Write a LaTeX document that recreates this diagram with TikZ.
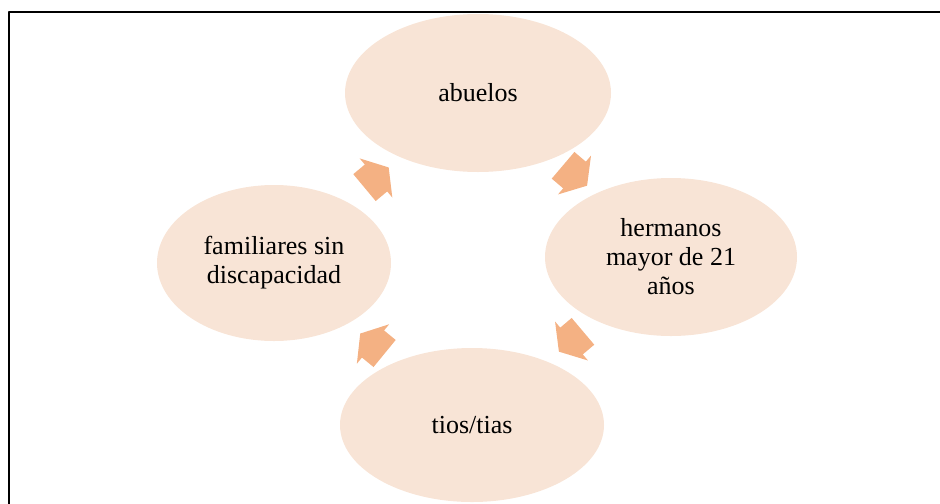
\documentclass[tikz,border=0pt]{standalone}
\usepackage{fontspec}
\setmainfont{Liberation Serif}
\usetikzlibrary{shapes.geometric,calc}
\definecolor{oval}{HTML}{F8E4D6}
\definecolor{flechacol}{HTML}{F4B183}
\tikzset{
	oval/.style={ellipse, fill=oval, inner sep=0pt, align=center, font=\fontsize{14.8}{16.5}\selectfont},
	flecha/.pic={\fill[flechacol] (-0.30,-0.35)--(0,-0.35)--(0,-0.51)--(0.33,0)--(0,0.51)--(0,0.35)--(-0.30,0.35)--cycle;}
}
\begin{document}
\begin{tikzpicture}[line join=round, line cap=round]
	\clip (0,0) rectangle (18.8,10.06);
	\draw[line width=1.1pt] (0.18,-1) rectangle (19.5,9.82);
	\node[oval, minimum width=5.32cm, minimum height=3.16cm] (abuelos) at (9.56,8.20) {abuelos};
	\node[oval, minimum width=5.04cm, minimum height=3.16cm] (hermanos) at (13.42,4.92) {hermanos\\mayor de 21\\años};
	\node[oval, minimum width=5.28cm, minimum height=3.08cm] (tios) at (9.44,1.56) {tios/tias};
	\node[oval, minimum width=4.68cm, minimum height=3.12cm] (familiares) at (5.48,4.80) {familiares sin\\discapacidad};
	\foreach \a/\b in {abuelos/hermanos, hermanos/tios, tios/familiares, familiares/abuelos}
	\path let \p1=($(\b.center)-(\a.center)$), \n1={atan2(\y1,\x1)} in ($(\a.center)!0.5!(\b.center)$) pic[rotate=\n1]{flecha};
\end{tikzpicture}
\end{document}
